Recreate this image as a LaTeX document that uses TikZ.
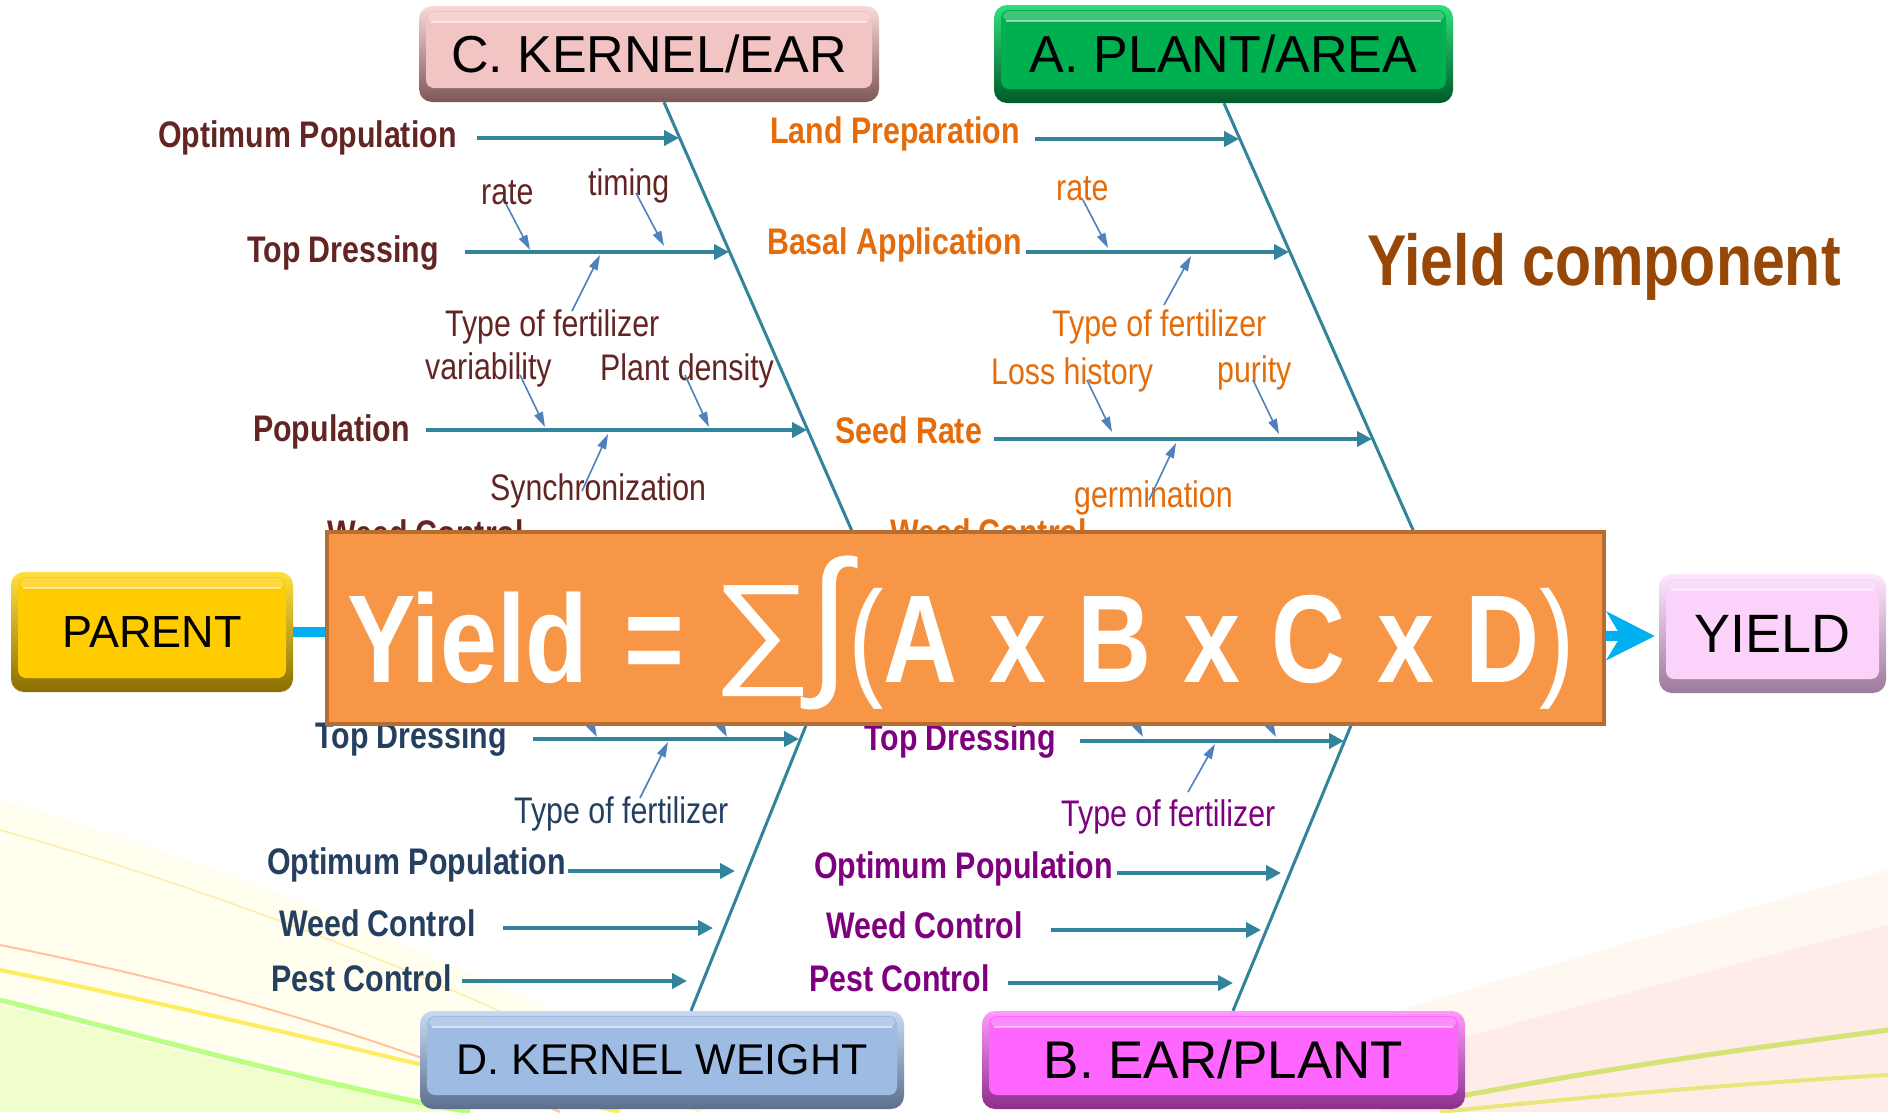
\documentclass[tikz,border=0pt]{standalone}
\usepackage{fontspec}
\usepackage{graphicx}
\setmainfont{Liberation Sans}
\newfontfamily\nf[FakeStretch=0.82]{Liberation Sans}
\newfontfamily\symf{Liberation Sans}
\usetikzlibrary{arrows.meta,calc}
\definecolor{teal1}{HTML}{31849B}
\definecolor{subc}{HTML}{4F81BD}
\definecolor{maroon1}{HTML}{632523}
\definecolor{orng}{HTML}{E46C0A}
\definecolor{navy1}{HTML}{243F60}
\definecolor{purp}{HTML}{7F007F}
\definecolor{brown1}{HTML}{974806}
\definecolor{boxorange}{HTML}{F79646}
\definecolor{boxborder}{HTML}{B66D31}
\definecolor{cyan1}{HTML}{00B0F0}
\definecolor{cFace}{HTML}{F3C4C4}\definecolor{cLight}{HTML}{F8DADA}\definecolor{cDark}{HTML}{7E5656}
\definecolor{aFace}{HTML}{00B050}\definecolor{aLight}{HTML}{2EE07A}\definecolor{aDark}{HTML}{005A2A}
\definecolor{pFace}{HTML}{FFCC00}\definecolor{pLight}{HTML}{FFE040}\definecolor{pDark}{HTML}{8A6E00}
\definecolor{yFace}{HTML}{FAD2FA}\definecolor{yLight}{HTML}{FFE6FF}\definecolor{yDark}{HTML}{9C7A9C}
\definecolor{dFace}{HTML}{9EBBE3}\definecolor{dLight}{HTML}{C8DAF2}\definecolor{dDark}{HTML}{5B6F8E}
\definecolor{bFace}{HTML}{FF66FF}\definecolor{bLight}{HTML}{FF99FF}\definecolor{bDark}{HTML}{8C2E8C}
\tikzset{
  lab/.style={inner sep=0pt, anchor=base west, font=\nf\fontsize{37}{44}\selectfont},
  blab/.style={lab, font=\nf\bfseries\fontsize{37}{44}\selectfont},
  mainarrow/.style={teal1, line width=4pt, -{Triangle[length=15pt,width=15pt]}},
  subarrow/.style={subc, line width=1.6pt, -{Triangle[length=15pt,width=9pt]}},
  spine/.style={teal1, line width=3pt},
  ftxt/.style={inner sep=0pt, text=white, font=\nf\bfseries\fontsize{125}{130}\selectfont},
  bevelbox/.style n args={3}{rounded corners=13pt, inner sep=0pt, top color=#2, bottom color=#3,
    path picture={
      \fill[#1, rounded corners=8pt] ([xshift=7pt,yshift=-5pt]path picture bounding box.north west) rectangle ([xshift=-7pt,yshift=14pt]path picture bounding box.south east);
      \fill[white, opacity=0.25, rounded corners=6pt] ([xshift=9pt,yshift=-6pt]path picture bounding box.north west) rectangle ([xshift=-9pt,yshift=-16pt]path picture bounding box.north east);
      \draw[white, opacity=0.5, line width=1.5pt] ([xshift=12pt,yshift=-16pt]path picture bounding box.north west) -- ([xshift=-12pt,yshift=-16pt]path picture bounding box.north east);
    }},
}
\begin{document}
\begin{tikzpicture}[x=1pt,y=-1pt]
\useasboundingbox (0,0) rectangle (1888,1112);
\fill[white] (0,0) rectangle (1888,1112);
% background swooshes
\fill[yellow!8, opacity=0.8] (0,800) .. controls (250,870) and (500,980) .. (760,1112) -- (0,1112) -- cycle;
\draw[yellow!60!orange, opacity=0.3, line width=1.5pt] (0,830) .. controls (250,900) and (500,1000) .. (700,1112);
\draw[orange!70!red, opacity=0.35, line width=2pt] (0,945) .. controls (200,985) and (380,1035) .. (560,1112);
\draw[yellow!85!orange, opacity=0.6, line width=4pt] (0,970) .. controls (200,1010) and (400,1060) .. (620,1112);
\draw[green!60!yellow, opacity=0.45, line width=5pt] (0,1000) .. controls (160,1040) and (300,1080) .. (470,1112);
\fill[green!40!yellow, opacity=0.15] (0,1005) .. controls (160,1045) and (300,1085) .. (470,1112) -- (0,1112) -- cycle;
\fill[orange!10, opacity=0.5] (1300,1040) .. controls (1500,980) and (1700,920) .. (1888,870) -- (1888,1112) -- (1300,1112) -- cycle;
\fill[red!12, opacity=0.5] (1380,1060) .. controls (1600,1000) and (1750,960) .. (1888,925) -- (1888,1112) -- (1380,1112) -- cycle;
\draw[yellow!70!green, opacity=0.55, line width=5pt] (1440,1100) .. controls (1650,1060) and (1780,1045) .. (1888,1030);
\draw[yellow!80!green, opacity=0.5, line width=4pt] (1440,1112) .. controls (1650,1090) and (1800,1080) .. (1888,1075);

% boxes
\node[bevelbox={cFace}{cLight}{cDark}, minimum width=460pt, minimum height=96pt, font=\fontsize{52}{56}\selectfont] (C) at (649,54) {C. KERNEL/EAR};
\node[bevelbox={aFace}{aLight}{aDark}, minimum width=459pt, minimum height=98pt, font=\fontsize{52}{56}\selectfont] (A) at (1223.5,54) {A. PLANT/AREA};
\node[bevelbox={pFace}{pLight}{pDark}, minimum width=282pt, minimum height=120pt, font=\fontsize{45}{50}\selectfont] (P) at (152,632) {PARENT};
\node[bevelbox={yFace}{yLight}{yDark}, minimum width=227pt, minimum height=119pt, font=\fontsize{54}{58}\selectfont] (Y) at (1772.5,633.5) {YIELD};
\node[bevelbox={dFace}{dLight}{dDark}, minimum width=484pt, minimum height=98pt, font=\fontsize{43}{50}\selectfont] (D) at (662,1060) {D. KERNEL WEIGHT};
\node[bevelbox={bFace}{bLight}{bDark}, minimum width=483pt, minimum height=98pt, font=\fontsize{53}{56}\selectfont] (B) at (1223.5,1060) {B. EAR/PLANT};

% spines
\coordinate (cEnd) at (898,636);
\coordinate (aEnd) at (1460,636);
\coordinate (dEnd) at (842,636);
\coordinate (bEnd) at (1388,636);
\draw[spine] ($(C.south)+(15,0)$) -- (cEnd);
\draw[spine] ($(A.south)+(0.5,0)$) -- (aEnd);
\draw[spine] ($(D.north)+(29,0)$) -- (dEnd);
\draw[spine] ($(B.north)+(9.5,0)$) -- (bEnd);

% ---- upper left (C)
\begin{scope}[text=maroon1]
\node[blab] (c1) at (158,147) {Optimum Population};
\node[lab] (c2) at (481,204) {rate};
\node[lab] (c3) at (588,195) {timing};
\node[blab] (c4) at (247,262) {Top Dressing};
\node[lab] (c5) at (445,336) {Type of fertilizer};
\node[lab] (c6) at (425,379) {variability};
\node[lab] (c7) at (600,380) {Plant density};
\node[blab] (c8) at (253,441) {Population};
\node[lab] (c9) at (490,500) {Synchronization};
\node[blab] (c10) at (327,546) {Weed Control};
\end{scope}
\coordinate (c1s) at (477,138); \coordinate (c1t) at (679,138);
\coordinate (c4s) at (465,252); \coordinate (c4t) at (729,252);
\coordinate (c8s) at (426,430); \coordinate (c8t) at (807,430);
\coordinate (c10s) at (560,538); \coordinate (c10t) at (855,538);
\draw[mainarrow] (c1s) -- (c1t);
\draw[mainarrow] (c4s) -- (c4t);
\draw[mainarrow] (c8s) -- (c8t);
\draw[mainarrow] (c10s) -- (c10t);
\coordinate (c2t) at (530,250);
\coordinate (c3t) at (664,246);
\coordinate (c5t) at (600,255);
\coordinate (c6t) at (545,427);
\coordinate (c7t) at (709,427);
\coordinate (c9t) at (608,434);
\draw[subarrow] ($(c2.base west)+(25,0)$) -- (c2t);
\draw[subarrow] ($(c3.base west)+(48,-2)$) -- (c3t);
\draw[subarrow] ($(c5.base west)+(127,-25)$) -- (c5t);
\draw[subarrow] ($(c6.base west)+(95,-4)$) -- (c6t);
\draw[subarrow] ($(c7.base west)+(85,-5)$) -- (c7t);
\draw[subarrow] ($(c9.base west)+(92,-9)$) -- (c9t);

% ---- upper right (A)
\begin{scope}[text=orng]
\node[blab] (a1) at (770,143) {Land Preparation};
\node[lab] (a2) at (1056,200) {rate};
\node[blab] (a3) at (767,254) {Basal Application};
\node[lab] (a4) at (1052,336) {Type of fertilizer};
\node[lab] (a5) at (991,384) {Loss history};
\node[lab] (a6) at (1217,382) {purity};
\node[blab] (a7) at (835,443) {Seed Rate};
\node[lab] (a8) at (1074,507) {germination};
\node[blab] (a9) at (890,545) {Weed Control};
\end{scope}
\coordinate (a1s) at (1035,139); \coordinate (a1t) at (1239,139);
\coordinate (a3s) at (1026,252); \coordinate (a3t) at (1289,252);
\coordinate (a7s) at (994,439); \coordinate (a7t) at (1372,439);
\coordinate (a9s) at (1120,538); \coordinate (a9t) at (1416,538);
\draw[mainarrow] (a1s) -- (a1t);
\draw[mainarrow] (a3s) -- (a3t);
\draw[mainarrow] (a7s) -- (a7t);
\draw[mainarrow] (a9s) -- (a9t);
\coordinate (a2t) at (1108,248);
\coordinate (a4t) at (1191,256);
\coordinate (a5t) at (1112,432);
\coordinate (a6t) at (1279,434);
\coordinate (a8t) at (1176,443);
\draw[subarrow] ($(a2.base west)+(27,0)$) -- (a2t);
\draw[subarrow] ($(a4.base west)+(112,-31)$) -- (a4t);
\draw[subarrow] ($(a5.base west)+(96,-4)$) -- (a5t);
\draw[subarrow] ($(a6.base west)+(36,-2)$) -- (a6t);
\draw[subarrow] ($(a8.base west)+(75,-7)$) -- (a8t);

% ---- lower left (D)
\begin{scope}[text=navy1]
\node[blab] (d1) at (315,748) {Top Dressing};
\node[lab] (d2) at (514,823) {Type of fertilizer};
\node[blab] (d3) at (267,874) {Optimum Population};
\node[blab] (d4) at (279,936) {Weed Control};
\node[blab] (d5) at (271,991) {Pest Control};
\end{scope}
\coordinate (d1s) at (533,739); \coordinate (d1t) at (799,739);
\coordinate (d3s) at (568,871); \coordinate (d3t) at (735,871);
\coordinate (d4s) at (503,928); \coordinate (d4t) at (713,928);
\coordinate (d5s) at (462,981); \coordinate (d5t) at (687,981);
\draw[mainarrow] (d1s) -- (d1t);
\draw[mainarrow] (d3s) -- (d3t);
\draw[mainarrow] (d4s) -- (d4t);
\draw[mainarrow] (d5s) -- (d5t);
\coordinate (d2t) at (668,742);
\draw[subarrow] ($(d2.base west)+(126,-25)$) -- (d2t);
\coordinate (dh1s) at (571,688); \coordinate (dh1t) at (597,737);
\coordinate (dh2s) at (701,688); \coordinate (dh2t) at (727,737);
\draw[subarrow] (dh1s) -- (dh1t);
\draw[subarrow] (dh2s) -- (dh2t);

% ---- lower right (B)
\begin{scope}[text=purp]
\node[blab] (b1) at (864,750) {Top Dressing};
\node[lab] (b2) at (1061,826) {Type of fertilizer};
\node[blab] (b3) at (814,878) {Optimum Population};
\node[blab] (b4) at (826,938) {Weed Control};
\node[blab] (b5) at (809,991) {Pest Control};
\end{scope}
\coordinate (b1s) at (1080,741); \coordinate (b1t) at (1344,741);
\coordinate (b3s) at (1117,873); \coordinate (b3t) at (1281,873);
\coordinate (b4s) at (1051,930); \coordinate (b4t) at (1261,930);
\coordinate (b5s) at (1008,983); \coordinate (b5t) at (1233,983);
\draw[mainarrow] (b1s) -- (b1t);
\draw[mainarrow] (b3s) -- (b3t);
\draw[mainarrow] (b4s) -- (b4t);
\draw[mainarrow] (b5s) -- (b5t);
\coordinate (b2t) at (1215,744);
\draw[subarrow] ($(b2.base west)+(127,-34)$) -- (b2t);
\coordinate (bh1s) at (1117,688); \coordinate (bh1t) at (1143,737);
\coordinate (bh2s) at (1250,688); \coordinate (bh2t) at (1276,737);
\draw[subarrow] (bh1s) -- (bh1t);
\draw[subarrow] (bh2s) -- (bh2t);

% title
\node[inner sep=0pt, anchor=base west, text=brown1, font=\nf\bfseries\fontsize{72}{80}\selectfont] (title) at (1367,285) {Yield component};

% main cyan connector
\draw[cyan1, line width=10pt, -{Stealth[length=48pt,width=48pt,inset=14pt]}] (P.east) -- ($(Y.west)+(-4,2.5)$);

% formula box
\node[draw=boxborder, line width=4pt, fill=boxorange, minimum width=1277pt, minimum height=192pt, inner sep=0pt] (F) at (965.5,628) {};
\node[ftxt, anchor=base west] (fYield) at (347,682) {Yield};
\node[ftxt, anchor=base west] (fEq) at (624,682) {=};
\node[ftxt, anchor=south west] (fSum) at (712,697) {\symf\mdseries\resizebox*{100pt}{111pt}{∑}};
\node[ftxt, anchor=south west] (fInt) at (808,710) {\symf\mdseries\resizebox*{42pt}{154pt}{∫}};
\node[ftxt, anchor=base west] (fRest) at (848,682) {\spaceskip=31.5pt\relax{\mdseries\fontsize{130}{130}\selectfont(}A x B x C x D{\mdseries\fontsize{130}{130}\selectfont)}};
\end{tikzpicture}
\end{document}
